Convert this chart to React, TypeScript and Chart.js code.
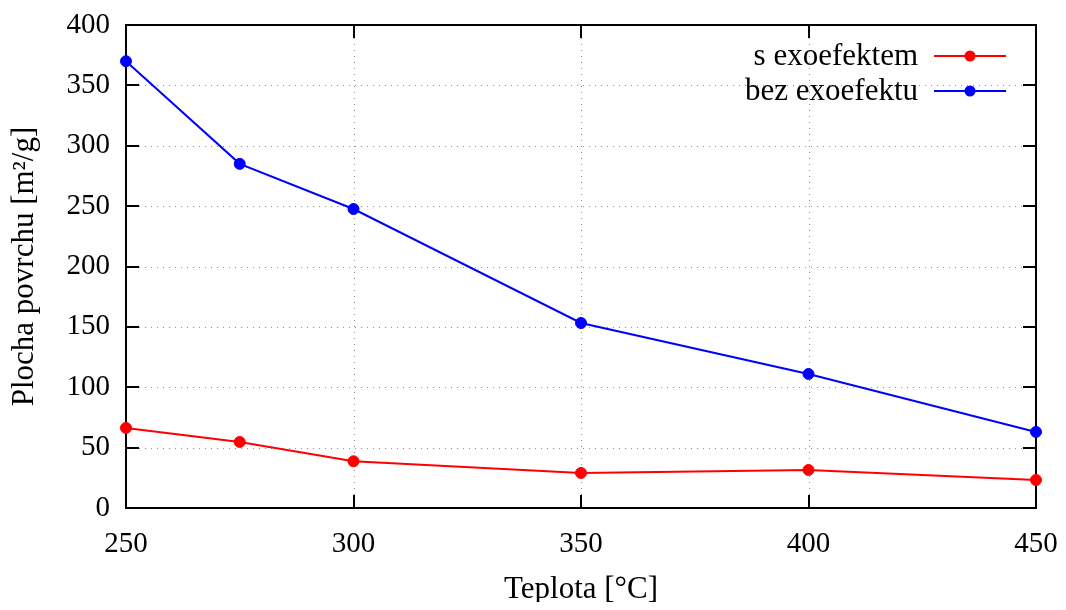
import React, { useEffect, useRef } from "react";
import { Chart, registerables } from "chart.js";

Chart.register(...registerables);

const temperatures = [250, 275, 300, 350, 400, 450];
const sExoefektem = [66.3, 54.7, 38.7, 29, 31.5, 23.2];
const bezExoefektu = [370, 285, 247.6, 153.2, 111, 63];
const seriesLabels = ["s exoefektem", "bez exoefektu"];
const seriesColors = ["#ff0000", "#0000ff"];
const xTickValues = [250, 300, 350, 400, 450];
const yTickValues = [0, 50, 100, 150, 200, 250, 300, 350, 400];
const xTitle = "Teplota [°C]";
const yTitle = "Plocha povrchu [m²/g]";

const FONT = "'Liberation Serif', 'Times New Roman', serif";
const TICK_SIZE = 29;
const TITLE_SIZE = 31;

const zeroPad = (s: any) => {
  s.paddingTop = 0;
  s.paddingBottom = 0;
  s.paddingLeft = 0;
  s.paddingRight = 0;
};

const framePlugin = {
  id: "gnuplotFrame",
  beforeDatasetsDraw(chart: any) {
    const { ctx, chartArea, scales } = chart;
    const { left, right, top, bottom } = chartArea;
    const xs = scales.x;
    const ys = scales.y;
    const tick = 13;
    ctx.save();
    ctx.strokeStyle = "#909090";
    ctx.lineWidth = 1;
    ctx.setLineDash([1, 5]);
    xTickValues.forEach((v) => {
      const px = Math.round(xs.getPixelForValue(v)) + 0.5;
      if (px <= left + 2 || px >= right - 2) return;
      ctx.beginPath();
      ctx.moveTo(px, bottom - tick);
      ctx.lineTo(px, top + tick);
      ctx.stroke();
    });
    yTickValues.forEach((v) => {
      const py = Math.round(ys.getPixelForValue(v)) + 0.5;
      if (py <= top + 2 || py >= bottom - 2) return;
      ctx.beginPath();
      ctx.moveTo(left + tick, py);
      ctx.lineTo(right - tick, py);
      ctx.stroke();
    });
    ctx.setLineDash([]);
    ctx.strokeStyle = "#000";
    ctx.lineWidth = 2;
    ctx.strokeRect(left, top, right - left, bottom - top);
    ctx.beginPath();
    xTickValues.forEach((v) => {
      const px = Math.round(xs.getPixelForValue(v));
      ctx.moveTo(px, bottom);
      ctx.lineTo(px, bottom - tick);
      ctx.moveTo(px, top);
      ctx.lineTo(px, top + tick);
    });
    yTickValues.forEach((v) => {
      const py = Math.round(ys.getPixelForValue(v));
      ctx.moveTo(left, py);
      ctx.lineTo(left + tick, py);
      ctx.moveTo(right, py);
      ctx.lineTo(right - tick, py);
    });
    ctx.stroke();
    ctx.restore();
  },
  afterDatasetsDraw(chart: any) {
    const { ctx, chartArea } = chart;
    ctx.save();
    ctx.font = `${TITLE_SIZE}px ${FONT}`;
    ctx.textAlign = "right";
    ctx.textBaseline = "middle";
    const lineEnd = chartArea.right - 30;
    const lineStart = lineEnd - 72;
    seriesLabels.forEach((label, i) => {
      const y = chartArea.top + 31 + i * 35;
      ctx.fillStyle = "#000";
      ctx.fillText(label, lineStart - 16, y + 1);
      ctx.strokeStyle = seriesColors[i];
      ctx.lineWidth = 2;
      ctx.beginPath();
      ctx.moveTo(lineStart, y);
      ctx.lineTo(lineEnd, y);
      ctx.stroke();
      ctx.fillStyle = seriesColors[i];
      ctx.beginPath();
      ctx.arc((lineStart + lineEnd) / 2, y, 5.5, 0, Math.PI * 2);
      ctx.fill();
    });
    ctx.restore();
  },
};

export default function App() {
  const ref = useRef<HTMLCanvasElement | null>(null);
  useEffect(() => {
    if (!ref.current) return;
    const mk = (data: number[]) => temperatures.map((t, i) => ({ x: t, y: data[i] }));
    const ds = (i: number, data: number[]) => ({
      label: seriesLabels[i],
      data: mk(data),
      borderColor: seriesColors[i],
      backgroundColor: seriesColors[i],
      borderWidth: 2,
      pointRadius: 5.5,
      pointBorderWidth: 1,
      pointBorderColor: seriesColors[i],
      pointBackgroundColor: seriesColors[i],
      clip: false as any,
    });
    const chart = new Chart(ref.current, {
      type: "line",
      data: {
        datasets: [ds(0, sExoefektem), ds(1, bezExoefektu)],
      },
      options: {
        animation: false,
        responsive: false,
        maintainAspectRatio: false,
        layout: { padding: { top: 17, right: 22, left: 0, bottom: 0 } },
        plugins: {
          legend: { display: false },
          tooltip: { enabled: false },
        },
        scales: {
          x: {
            type: "linear",
            min: 250,
            max: 450,
            afterFit: (s: any) => {
              s.height = 102;
              zeroPad(s);
            },
            afterBuildTicks: (s: any) => {
              s.ticks = xTickValues.map((v) => ({ value: v }));
            },
            grid: { display: false, drawTicks: false },
            border: { display: false },
            ticks: {
              padding: 19,
              color: "#000",
              font: { family: FONT, size: TICK_SIZE },
              maxRotation: 0,
            },
            title: {
              display: true,
              text: xTitle,
              color: "#000",
              font: { family: FONT, size: TITLE_SIZE, lineHeight: 1.3 },
              padding: { top: 0, bottom: 0 },
            },
          },
          y: {
            type: "linear",
            min: 0,
            max: 400,
            afterFit: (s: any) => {
              s.width = 118;
              zeroPad(s);
            },
            afterBuildTicks: (s: any) => {
              s.ticks = yTickValues.map((v) => ({ value: v }));
            },
            grid: { display: false, drawTicks: false },
            border: { display: false },
            ticks: {
              padding: 16,
              color: "#000",
              font: { family: FONT, size: TICK_SIZE },
            },
            title: {
              display: true,
              text: yTitle,
              color: "#000",
              font: { family: FONT, size: TITLE_SIZE, lineHeight: 1.1 },
              padding: { top: 0, bottom: 0 },
            },
          },
        },
      },
      plugins: [framePlugin],
    });
    return () => chart.destroy();
  }, []);
  return (
    <div style={{ width: 1050, height: 594 }}>
      <canvas ref={ref} width={1050} height={602} style={{ display: "block" }} />
    </div>
  );
}
